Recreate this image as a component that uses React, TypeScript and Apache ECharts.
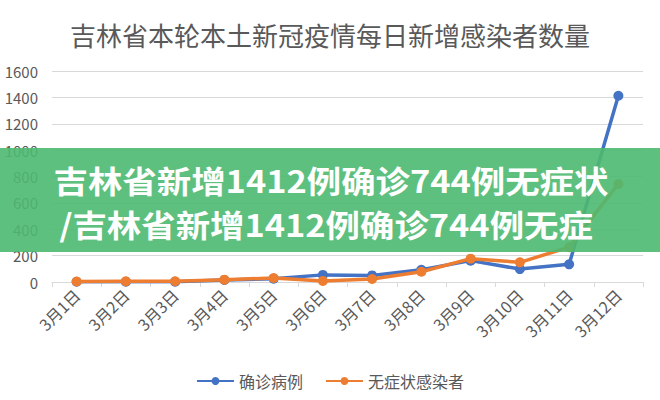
import React, { useEffect, useRef } from 'react';
import * as echarts from 'echarts';

const titleText = '吉林省本轮本土新冠疫情每日新增感染者数量';
const categories = ['3月1日', '3月2日', '3月3日', '3月4日', '3月5日', '3月6日', '3月7日', '3月8日', '3月9日', '3月10日', '3月11日', '3月12日'];
const confirmed = [2, 2, 2, 15, 25, 54, 50, 93, 162, 98, 134, 1412];
const asymptomatic = [4, 5, 6, 18, 30, 8, 23, 78, 177, 149, 264, 744];
const seriesNames = ['确诊病例', '无症状感染者'];
const bannerLines = ['吉林省新增1412例确诊744例无症状', '/吉林省新增1412例确诊744例无症'];

const FONT = '"Noto Sans CJK SC", "Noto Sans", sans-serif';

const App: React.FC = () => {
  const chartRef = useRef<HTMLDivElement>(null);

  useEffect(() => {
    if (!chartRef.current) return;
    const chart = echarts.init(chartRef.current, undefined, { renderer: 'svg' });

    const bannerText = (text: string, x: number, y: number) => ({
      type: 'text',
      x,
      y,
      scaleX: 1.11,
      z: 101,
      style: {
        text,
        fill: '#ffffff',
        fontSize: 31,
        fontWeight: 'bold',
        fontFamily: FONT,
        align: 'center',
        verticalAlign: 'middle'
      }
    });

    const option: any = {
      animation: false,
      backgroundColor: '#ffffff',
      textStyle: { fontFamily: FONT },
      title: {
        text: titleText,
        left: 'center',
        top: 16,
        textStyle: { color: '#595959', fontSize: 26, fontWeight: 'normal', fontFamily: FONT }
      },
      legend: {
        data: seriesNames,
        left: 'center',
        top: 368,
        itemWidth: 37,
        itemHeight: 10,
        itemGap: 22,
        textStyle: { color: '#595959', fontSize: 16, fontFamily: FONT }
      },
      grid: { left: 52, right: 17, top: 71, bottom: 118 },
      xAxis: {
        type: 'category',
        data: categories,
        boundaryGap: true,
        axisLine: { lineStyle: { color: '#d9d9d9', width: 1 } },
        axisTick: { show: true, length: 5, lineStyle: { color: '#d9d9d9' } },
        axisLabel: { color: '#595959', fontSize: 16, rotate: 45, margin: 10, interval: 0, fontFamily: FONT }
      },
      yAxis: {
        type: 'value',
        min: 0,
        max: 1600,
        interval: 200,
        axisLine: { show: false },
        axisTick: { show: false },
        axisLabel: {
          color: '#595959',
          fontSize: 15,
          margin: 14,
          fontFamily: FONT,
          formatter: (v: number) => String(v)
        },
        splitLine: { lineStyle: { color: '#d9d9d9', width: 1 } }
      },
      series: [
        {
          name: seriesNames[0],
          type: 'line',
          data: confirmed,
          symbol: 'circle',
          symbolSize: 10,
          color: '#4472c4',
          lineStyle: { width: 3.5, color: '#4472c4' },
          itemStyle: { color: '#4472c4' },
          z: 2
        },
        {
          name: seriesNames[1],
          type: 'line',
          data: asymptomatic,
          symbol: 'circle',
          symbolSize: 10,
          color: '#ed7d31',
          lineStyle: { width: 3.5, color: '#ed7d31' },
          itemStyle: { color: '#ed7d31' },
          z: 3
        }
      ],
      graphic: [
        {
          type: 'group',
          z: 100,
          children: [
            {
              type: 'rect',
              shape: { x: 0, y: 148, width: 660, height: 104 },
              style: { fill: 'rgba(76,185,112,0.9)' },
              z: 100
            },
            bannerText(bannerLines[0], 331, 179),
            bannerText(bannerLines[1], 326, 223)
          ]
        }
      ]
    };

    chart.setOption(option);
    return () => chart.dispose();
  }, []);

  return (
    <div
      ref={chartRef}
      style={{ position: 'absolute', left: 0, top: 0, width: 660, height: 400 }}
    />
  );
};

export default App;
